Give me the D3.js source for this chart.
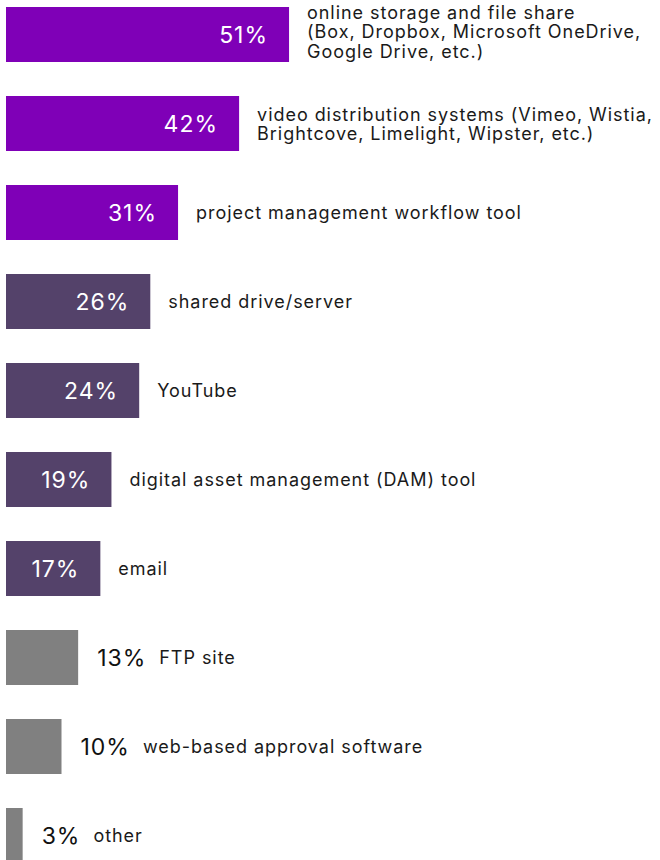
<!DOCTYPE html>
<html>
<head>
<meta charset="utf-8">
<script src="https://cdn.jsdelivr.net/npm/d3@7"></script>
<style>
  html, body { margin: 0; padding: 0; background: #ffffff; }
  svg { display: block; }
</style>
</head>
<body>
<svg id="chart" width="660" height="860"></svg>
<script>
const categories = [
  "online storage and file share\n(Box, Dropbox, Microsoft OneDrive,\nGoogle Drive, etc.)",
  "video distribution systems (Vimeo, Wistia,\nBrightcove, Limelight, Wipster, etc.)",
  "project management workflow tool",
  "shared drive/server",
  "YouTube",
  "digital asset management (DAM) tool",
  "email",
  "FTP site",
  "web-based approval software",
  "other"
];
const values = [51, 42, 31, 26, 24, 19, 17, 13, 10, 3];
const groups = ["top", "top", "top", "mid", "mid", "mid", "mid", "low", "low", "low"];

const colors = { top: "#7f00b7", mid: "#54426a", low: "#808080" };
const FONT = "Inter, 'Open Sans', sans-serif";

const data = categories.map((c, i) => ({ label: c, value: values[i], group: groups[i] }));

const svg = d3.select("#chart");
const left = 6;

const x = d3.scaleLinear().domain([0, 100]).range([0, 555]);
const y = d3.scaleBand()
  .domain(categories)
  .range([7, 863])
  .paddingInner(34 / 89)
  .paddingOuter(0);

const row = svg.selectAll("g.row")
  .data(data)
  .join("g")
  .attr("class", "row");

row.append("rect")
  .attr("x", left)
  .attr("y", d => y(d.label))
  .attr("width", d => x(d.value))
  .attr("height", y.bandwidth())
  .attr("fill", d => colors[d.group]);

row.each(function(d) {
  const g = d3.select(this);
  const cy = y(d.label) + y.bandwidth() / 2;
  const barEnd = left + x(d.value);
  let labelX;
  if (d.group !== "low") {
    g.append("text")
      .attr("x", barEnd - 21)
      .attr("y", cy + 8.5)
      .attr("text-anchor", "end")
      .attr("font-family", FONT)
      .attr("font-size", 23)
      .attr("letter-spacing", 1)
      .attr("fill", "#ffffff")
      .text(d.value + "%");
    labelX = barEnd + 18;
  } else {
    const vt = g.append("text")
      .attr("x", barEnd + 19)
      .attr("y", cy + 8.5)
      .attr("font-family", FONT)
      .attr("font-size", 23)
      .attr("letter-spacing", 1)
      .attr("fill", "#111111")
      .text(d.value + "%");
    labelX = barEnd + 19 + vt.node().getComputedTextLength() + 13;
  }
  const lines = d.label.split("\n");
  const n = lines.length;
  const lh = 19.5;
  const t = g.append("text")
    .attr("font-family", FONT)
    .attr("font-size", 18)
    .attr("letter-spacing", 0.95)
    .attr("fill", "#1a1a1a");
  const adj = n === 3 ? -2.5 : (n === 2 ? 1 : 0.5);
  const firstBase = cy + 6 - (n - 1) * lh / 2 + adj;
  lines.forEach((ln, i) => {
    t.append("tspan")
      .attr("x", labelX)
      .attr("y", firstBase + i * lh)
      .text(ln);
  });
});
</script>
</body>
</html>
